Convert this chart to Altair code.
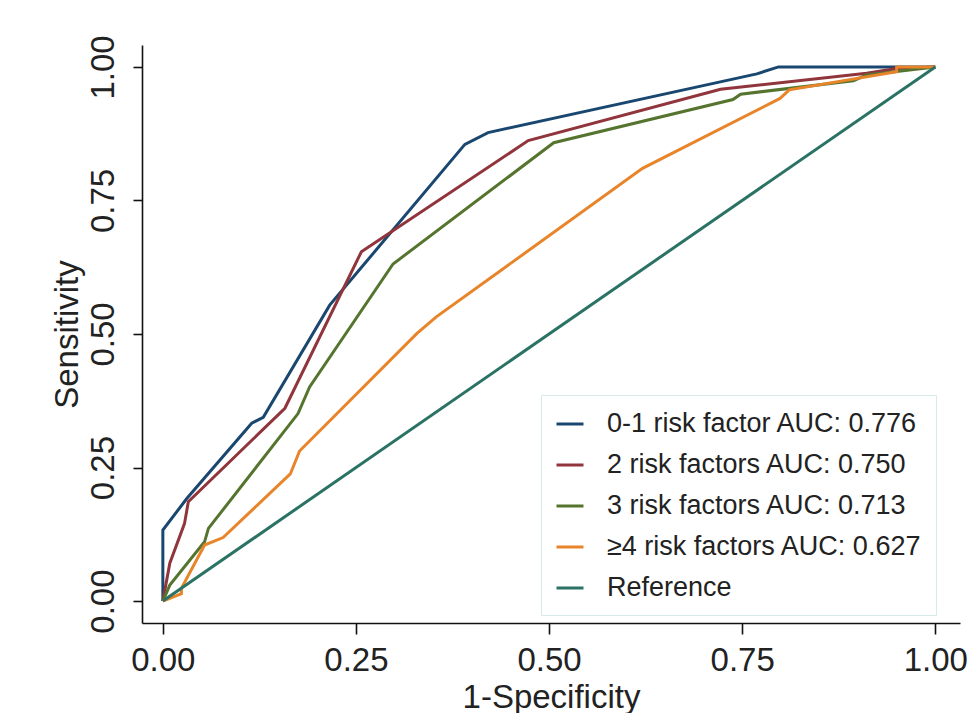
import altair as alt
import pandas as pd

series_names = [
    "0-1 risk factor AUC: 0.776",
    "2 risk factors AUC: 0.750",
    "3 risk factors AUC: 0.713",
    "≥4 risk factors AUC: 0.627",
    "Reference",
]
series_colors = ["#1a476f", "#90353b", "#55752f", "#e8842a", "#2a7264"]

blue_x = [0.0, 0.0, 0.031, 0.115, 0.130, 0.216, 0.391, 0.421, 0.769, 0.797, 1.0]
blue_y = [0.0, 0.133, 0.192, 0.333, 0.344, 0.554, 0.855, 0.877, 0.987, 1.0, 1.0]

red_x = [0.0, 0.009, 0.028, 0.033, 0.158, 0.257, 0.473, 0.722, 0.911, 0.950, 1.0]
red_y = [0.0, 0.071, 0.145, 0.186, 0.361, 0.654, 0.862, 0.958, 0.988, 0.997, 1.0]

green_x = [0.0, 0.009, 0.054, 0.059, 0.175, 0.190, 0.298, 0.506, 0.738, 0.748, 0.894, 0.911, 1.0]
green_y = [0.0, 0.030, 0.111, 0.136, 0.351, 0.401, 0.631, 0.858, 0.939, 0.949, 0.974, 0.985, 1.0]

orange_x = [0.0, 0.024, 0.024, 0.054, 0.078, 0.165, 0.177, 0.329, 0.354, 0.621, 0.799, 0.811, 0.950, 0.950, 1.0]
orange_y = [0.0, 0.014, 0.024, 0.105, 0.119, 0.238, 0.281, 0.501, 0.532, 0.810, 0.941, 0.957, 0.991, 1.0, 1.0]

ref_x = [0.0, 1.0]
ref_y = [0.0, 1.0]

tick_values = [0.0, 0.25, 0.5, 0.75, 1.0]

rows = []
for k, (name, xs, ys) in enumerate(zip(
        series_names,
        [blue_x, red_x, green_x, orange_x, ref_x],
        [blue_y, red_y, green_y, orange_y, ref_y])):
    for i, (xv, yv) in enumerate(zip(xs, ys)):
        rows.append({"series": name, "fpr": xv, "tpr": yv, "idx": i, "sidx": k})
df = pd.DataFrame(rows)

FONT = "Liberation Sans"

chart = alt.Chart(df).mark_line(strokeWidth=3).encode(
    x=alt.X(
        "fpr:Q",
        scale=alt.Scale(domain=[-0.027, 1.032], nice=False, zero=False),
        axis=alt.Axis(
            values=tick_values, format=".2f", title="1-Specificity",
            tickSize=11, labelPadding=10,
            titleX=409, titleY=84, titleBaseline="alphabetic", titleAlign="center",
        ),
    ),
    y=alt.Y(
        "tpr:Q",
        scale=alt.Scale(domain=[-0.041, 1.041], nice=False, zero=False),
        axis=alt.Axis(
            values=tick_values, format=".2f", title="Sensitivity",
            tickSize=9, labelPadding=20, labelAngle=270,
            labelAlign="center", labelBaseline="alphabetic",
            titleX=-65, titleY=289, titleAngle=270,
            titleBaseline="alphabetic", titleAlign="center",
        ),
    ),
    color=alt.Color(
        "series:N",
        sort=series_names,
        scale=alt.Scale(domain=series_names, range=series_colors),
        legend=alt.Legend(
            title=None, orient="none", legendX=399, legendY=350,
            symbolType="stroke", symbolSize=729, symbolStrokeWidth=3,
            labelFontSize=27, labelFont=FONT, labelColor="#222222",
            labelOffset=22, rowPadding=13, padding=14, labelLimit=600,
            strokeColor="#d6eaea", fillColor="white",
        ),
    ),
    order="idx:Q",
    detail="sidx:N",
).properties(
    width=818,
    height=578,
    background="white",
    autosize=alt.AutoSizeParams(type="none"),
    padding={"left": 134, "top": 37, "right": 10, "bottom": 90},
).configure_axis(
    grid=False,
    domainColor="#111111",
    domainWidth=1.6,
    tickColor="#111111",
    tickWidth=1.6,
    labelFont=FONT,
    labelFontSize=33,
    labelColor="#222222",
    titleFont=FONT,
    titleFontSize=33,
    titleFontWeight="normal",
    titleColor="#222222",
).configure_view(
    stroke=None
)

chart.save("out.html", embed_options={"renderer": "svg", "actions": False})
